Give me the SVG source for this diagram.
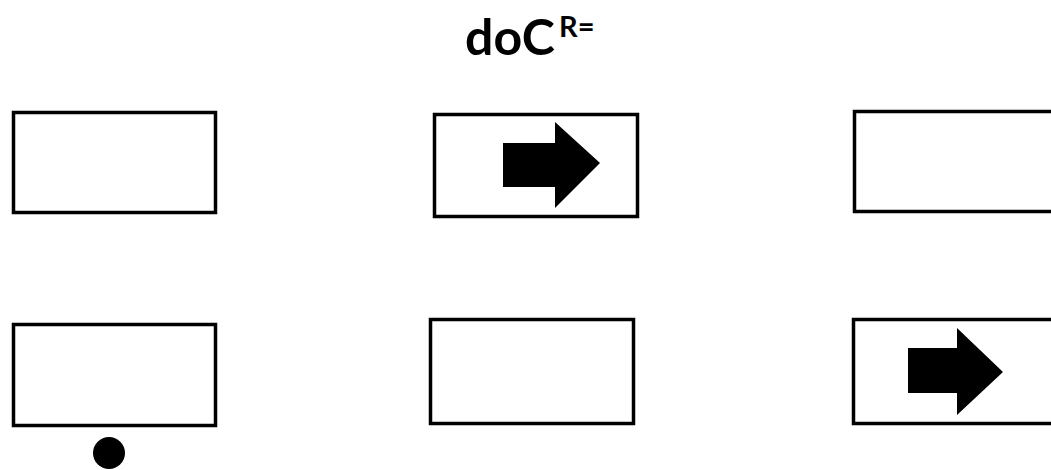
<svg xmlns="http://www.w3.org/2000/svg" width="1051" height="470" viewBox="0 0 1051 470">
<style>
.box{fill:#fff;stroke:#000;stroke-width:3.5}
.arr{fill:#000}
.t{font-family:Lato,"Open Sans","Liberation Sans",sans-serif;font-weight:bold;fill:#000}
</style>
<rect width="1051" height="470" fill="#fff"/>
<g id="title">
<text class="t" x="465" y="55" font-size="50">doC</text>
<text class="t" x="559" y="37" font-size="29">R=</text>
</g>
<g id="n1"><rect class="box" x="13.5" y="112.5" width="202" height="100"/></g>
<g id="n2"><rect class="box" x="434.5" y="114.5" width="203" height="102"/>
<path class="arr" d="M503,143 H555 V122 L600,163 L555,208 V187 H503 Z"/></g>
<g id="n3"><rect class="box" x="854.5" y="111.5" width="200" height="100"/></g>
<g id="n4"><rect class="box" x="13.5" y="324.5" width="202" height="101"/>
<circle cx="109" cy="453" r="16" fill="#000"/></g>
<g id="n5"><rect class="box" x="430.5" y="319.5" width="203" height="104"/></g>
<g id="n6"><rect class="box" x="853.5" y="319.5" width="200" height="104"/>
<path class="arr" d="M908,348 H957 V328 L1003,372 L957,415 V393 H908 Z"/></g>
<g id="connectors"></g>
</svg>
